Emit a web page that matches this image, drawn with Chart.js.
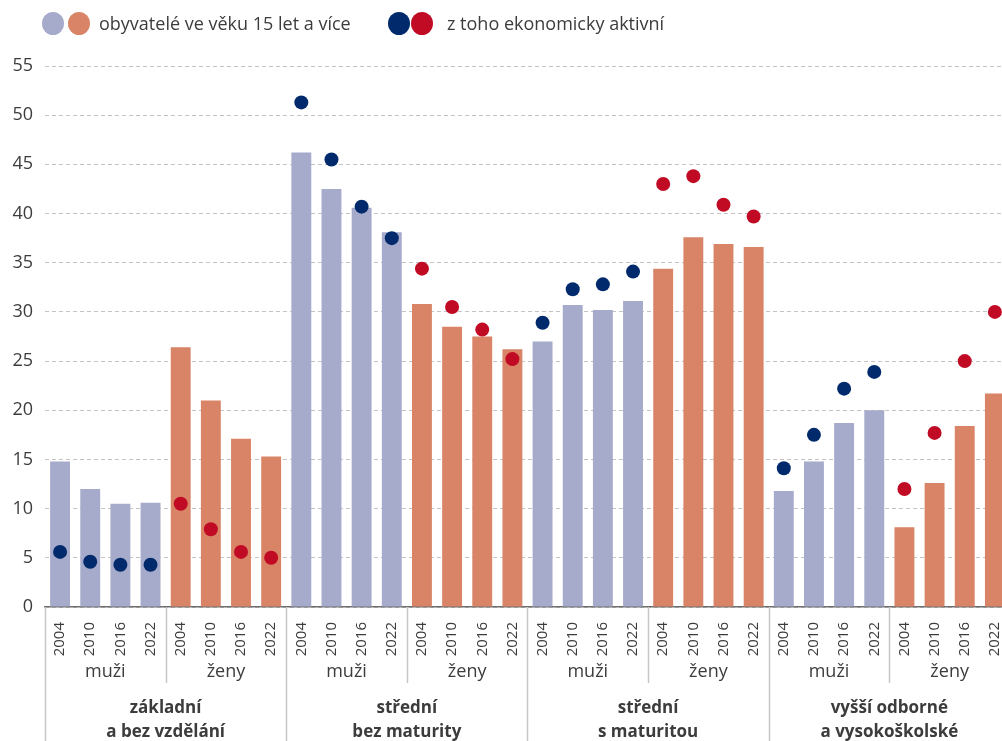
<!DOCTYPE html>
<html>
<head>
<meta charset="utf-8">
<script src="https://cdn.jsdelivr.net/npm/chart.js@4.4.0/dist/chart.umd.min.js"></script>
<style>
html, body { margin: 0; padding: 0; background: #fff; overflow: hidden; width: 1002px; height: 741px; }
#wrap { position: relative; width: 1020px; height: 741px; }
.dot { position: absolute; top: 12px; width: 22px; height: 23px; border-radius: 50%; }
.txt { position: absolute; top: 11px; line-height: 24px; font: 18px "Open Sans", sans-serif; color: #3c3c3c; white-space: nowrap; }
</style>
</head>
<body>
<div id="wrap">
  <span class="dot" style="left:42px;background:#a6aacb"></span>
  <span class="dot" style="left:68px;background:#d98467"></span>
  <span class="txt" style="left:99px">obyvatelé ve věku 15 let a více</span>
  <span class="dot" style="left:388px;background:#002a6c"></span>
  <span class="dot" style="left:411px;background:#c10a24"></span>
  <span class="txt" style="left:447px">z toho ekonomicky aktivní</span>
  <canvas id="graf" width="1020" height="741"></canvas>
</div>
<script>
var roky = ["2004", "2010", "2016", "2022"];
var pohlavi = ["muži", "ženy"];
var vzdelani = [["základní", "a bez vzdělání"], ["střední", "bez maturity"], ["střední", "s maturitou"], ["vyšší odborné", "a vysokoškolské"]];
// obyvatelé ve věku 15+ (%)
var obyvatele = [14.8, 12.0, 10.5, 10.6,  26.4, 21.0, 17.1, 15.3,
                 46.2, 42.5, 40.6, 38.1,  30.8, 28.5, 27.5, 26.2,
                 27.0, 30.7, 30.2, 31.1,  34.4, 37.6, 36.9, 36.6,
                 11.8, 14.8, 18.7, 20.0,   8.1, 12.6, 18.4, 21.7];
// z toho ekonomicky aktivní (%)
var aktivni = [5.6, 4.6, 4.3, 4.3,  10.5, 7.9, 5.6, 5.0,
               51.3, 45.5, 40.7, 37.5,  34.4, 30.5, 28.2, 25.2,
               28.9, 32.3, 32.8, 34.1,  43.0, 43.8, 40.9, 39.7,
               14.1, 17.5, 22.2, 23.9,  12.0, 17.7, 25.0, 30.0];

var barvySloupce = ["#a6aacb", "#d98467"];
var barvyBody = ["#002a6c", "#c10a24"];

var labels = [];
var sloupceBarvy = [];
var bodyBarvy = [];
for (var v = 0; v < vzdelani.length; v++) {
  for (var p = 0; p < pohlavi.length; p++) {
    for (var r = 0; r < roky.length; r++) {
      labels.push(roky[r]);
      sloupceBarvy.push(barvySloupce[p]);
      bodyBarvy.push(barvyBody[p]);
    }
  }
}

var skupiny = {
  id: "skupiny",
  afterDraw: function (chart) {
    var ctx = chart.ctx;
    var xs = chart.scales.x;
    var y0 = chart.chartArea.bottom;
    var sirka = xs.getPixelForValue(1) - xs.getPixelForValue(0);
    ctx.save();
    ctx.strokeStyle = "#c6c6c6";
    ctx.lineWidth = 1.5;
    for (var i = 0; i <= 8; i++) {
      var x = Math.round(xs.getPixelForValue(i * 4) - sirka / 2) + 0.5;
      ctx.beginPath();
      ctx.moveTo(x, y0);
      ctx.lineTo(x, i % 2 === 0 ? 741 : 683);
      ctx.stroke();
    }
    ctx.fillStyle = "#3c3c3c";
    ctx.textAlign = "center";
    ctx.textBaseline = "middle";
    for (var g = 0; g < 8; g++) {
      var xc = (xs.getPixelForValue(g * 4) + xs.getPixelForValue(g * 4 + 3)) / 2;
      ctx.font = "18px 'Open Sans'";
      ctx.fillText(pohlavi[g % 2], xc, 672);
    }
    for (var e = 0; e < 4; e++) {
      var xe = (xs.getPixelForValue(e * 8) + xs.getPixelForValue(e * 8 + 7)) / 2;
      ctx.font = "bold 17px 'Open Sans'";
      ctx.fillText(vzdelani[e][0], xe, 708);
      ctx.fillText(vzdelani[e][1], xe, 732);
    }
    ctx.restore();
  }
};

new Chart("graf", {
  type: "bar",
  data: {
    labels: labels,
    datasets: [{
      type: "line",
      data: aktivni,
      showLine: false,
      pointRadius: 7,
      pointHoverRadius: 7,
      pointBorderWidth: 0,
      pointBackgroundColor: bodyBarvy,
      clip: false,
      order: 0
    }, {
      data: obyvatele,
      backgroundColor: sloupceBarvy,
      categoryPercentage: 1,
      barPercentage: 0.66,
      order: 1
    }]
  },
  options: {
    responsive: false,
    animation: false,
    layout: { padding: { top: 66, left: 0, right: 0, bottom: 0 } },
    plugins: { legend: { display: false }, tooltip: { enabled: false } },
    scales: {
      x: {
        grid: { display: false },
        border: { display: true, color: "#6e6e6e", width: 1.5 },
        ticks: {
          minRotation: 90, maxRotation: 90, padding: 7,
          color: "#3c3c3c", font: { family: "Open Sans", size: 15 }
        },
        afterFit: function (s) { s.height = 134; }
      },
      y: {
        min: 0, max: 55,
        grid: { color: "#c4c4c4", drawTicks: false, lineWidth: 1 },
        border: { display: false, dash: [4, 3] },
        ticks: {
          stepSize: 5, padding: 12,
          color: "#3c3c3c", font: { family: "Open Sans", size: 18 }
        },
        afterFit: function (s) { s.width = 45; }
      }
    }
  },
  plugins: [skupiny]
});
</script>
</body>
</html>
